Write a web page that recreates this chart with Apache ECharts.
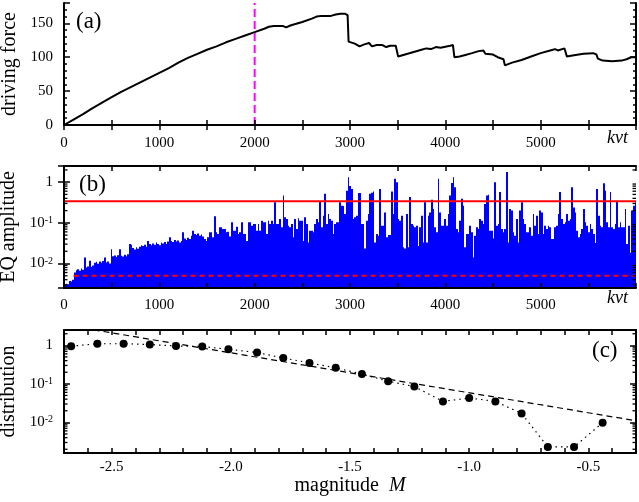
<!DOCTYPE html>
<html><head><meta charset="utf-8">
<script src="https://cdn.jsdelivr.net/npm/echarts@6/dist/echarts.min.js"></script>
<style>html,body{margin:0;padding:0;background:#fff}#c{width:639px;height:502px}</style>
</head><body><div id="c"></div>
<script>
// ---------- Panel (a): driving force vs kvt ----------
const forceKvt = [0,100,200,300,400,500,600,700,800,900,1000,1100,1200,1300,1400,1500,1600,1700,1800,1900,2000,2100,2150,2200,2250,2300,2330,2360,2400,2500,2600,2650,2700,2800,2850,2900,2950,2975,2985,3050,3100,3150,3200,3230,3280,3340,3380,3420,3480,3495,3505,3550,3650,3750,3800,3850,3900,3950,4050,4080,4095,4150,4200,4280,4350,4400,4420,4500,4550,4610,4625,4700,4800,4900,5000,5100,5150,5180,5250,5265,5275,5350,5450,5550,5585,5600,5650,5750,5850,5900,5950,6000];
const forceVal = [0,8,16,25,33,41,49,56,63,70,77,84,92,99,105,111,116,122,127,132,137,142,145,146,146,146,144,146,148,152,157,160,161,161,163,164,164,162,123,120,116,119,121,116,118,118,115,117,117,116,101,103,107,111,113,112,115,114,117,118,100,101,103,106,109,110,105,104,100,97,88,92,96,101,106,110,112,110,113,112,101,103,105,106,104,98,95,94,95,97,100,100];
const markKvt = 2000;

// ---------- Panel (b): EQ amplitude, one bar per kvt step ----------
const ampStep = 17.5;
const ampVal = [
 0.0030,0.0032,0.0031,0.0037,0.0036,0.0040,0.0060,0.0068,0.0072,0.0066,
 0.0075,0.0070,0.014,0.0080,0.0085,0.0117,0.0082,0.0090,0.0105,0.011,
 0.0098,0.0112,0.0105,0.0115,0.014,0.0106,0.0112,0.0100,0.0225,0.0150,
 0.0158,0.0145,0.0160,0.0225,0.0155,0.0148,0.0165,0.0150,0.0170,0.030,
 0.029,0.024,0.022,0.025,0.023,0.026,0.028,0.027,0.029,0.026,
 0.036,0.030,0.028,0.031,0.029,0.033,0.030,0.028,0.033,0.031,
 0.034,0.030,0.035,0.044,0.036,0.034,0.038,0.035,0.037,0.033,
 0.036,0.059,0.041,0.038,0.043,0.040,0.048,0.064,0.053,0.050,
 0.055,0.048,0.052,0.046,0.040,
 0.036,0.044,0.059,0.059,0.044,0.145,0.059,0.053,0.078,0.078,
 0.071,0.071,0.059,0.060,0.046,0.103,0.064,0.064,0.080,0.053,
 0.059,0.103,0.053,0.053,0.036,0.103,0.103,0.085,0.094,0.094,
 0.064,0.094,0.064,0.113,0.103,0.103,0.053,0.113,0.094,0.113,
 0.094,0.32,0.094,0.094,0.125,0.078,0.47,0.137,0.125,0.085,
 0.078,0.094,0.044,0.125,0.071,0.13,0.113,0.113,0.036,0.137,
 0.094,0.033,0.064,0.064,0.059,0.094,0.125,0.103,0.34,0.078,
 0.15,0.52,0.094,0.165,0.125,0.113,0.053,0.094,0.103,0.103,
 0.32,0.265,0.26,0.165,0.62,
 1.33,0.80,0.68,0.125,0.137,0.15,0.54,0.54,0.094,0.094,
 0.0235,0.113,0.165,0.52,0.55,0.59,0.033,0.053,0.048,0.68,
 0.085,0.085,0.18,0.044,0.05,0.05,0.59,0.165,1.21,1.0,
 0.125,0.113,0.15,0.025,0.0235,0.165,0.025,0.43,0.094,0.085,
 0.078,0.085,0.027,0.078,0.15,0.033,0.32,0.033,0.15,0.18,
 0.37,0.22,0.078,0.059,1.21,0.18,0.085,0.085,0.125,0.085,
 0.165,0.47,0.96,1.33,0.75,0.071,0.059,0.113,0.39,0.265,
 0.025,0.053,0.053,0.085,0.059,0.014,0.048,0.078,0.071,0.125,
 0.113,0.094,0.29,0.47,0.49,0.064,
 0.064,0.041,1.0,0.085,0.094,0.57,0.071,0.059,0.071,1.77,
 0.033,0.22,0.20,0.059,0.048,0.125,0.033,0.20,0.32,0.125,
 0.094,0.059,0.059,0.078,0.048,0.165,0.085,0.15,0.053,0.20,
 0.18,0.053,0.085,0.071,0.085,0.078,0.040,0.040,0.078,0.085,
 0.165,0.57,0.125,0.094,0.103,0.165,0.113,0.125,0.75,0.24,
 0.18,0.064,0.044,0.053,0.071,0.22,0.103,0.085,0.059,0.094,
 0.071,0.053,0.032,0.68,0.15,0.085,0.078,0.94,0.62,0.103,
 0.078,0.57,0.078,0.071,0.094,0.35,0.078,0.103,0.078,0.078,
 0.22,0.030,0.085,0.0185,0.20,0.265,0.32
];
const ampUpper = 0.34;
const ampLower = 0.005;
const ampLowerStartKvt = 100;

// ---------- Panel (c): distribution vs magnitude ----------
const magM = [-2.67,-2.56,-2.45,-2.34,-2.23,-2.12,-2.01,-1.89,-1.78,-1.67,-1.56,-1.45,-1.34,-1.23,-1.11,-1.00,-0.89,-0.78,-0.67,-0.56,-0.44];
const magDist = [0.95,1.1,1.1,1.05,0.96,0.93,0.79,0.65,0.47,0.35,0.26,0.18,0.117,0.085,0.035,0.043,0.035,0.017,0.0023,0.0023,0.0098];
const grLineM = [-2.7, -0.3];
const grLineDist = [3.4, 0.011];

// ---------- axis settings ----------
const kvtMin = 0, kvtMax = 6000, kvtTick = 500;
const forceMin = 0, forceMax = 180;
const ampMin = 0.0025, ampMax = 2.5;
const magMin = -2.7, magMax = -0.3;
const distMin = 0.0016, distMax = 2.5;
const minorMult = [2,3,4,5,6,7,8,9];
const decades = [0.001,0.01,0.1,1];

const FONT = "'Liberation Serif','DejaVu Serif',serif";
const BLACK = '#000';

function minorVals(lo, hi){
  const out = [];
  decades.forEach(d => minorMult.forEach(m => { const v = m*d; if (v > lo && v < hi) out.push(v); }));
  return out;
}
function logLabel(v){
  const e = Math.log10(v), r = Math.round(e);
  if (Math.abs(e - r) > 1e-6) return '';
  if (r === 0) return '1';
  return '10{s|' + r + '}';
}
const labelStyle = {color: BLACK, fontFamily: FONT, fontSize: 15};
const lineAx = {show: true, lineStyle: {color: BLACK, width: 2}};

function xAx(grid, min, max, interval, pos, labels, fmt, margin){
  return {type: 'value', gridIndex: grid, min, max, interval, position: pos, z: 6,
    axisLine: lineAx, splitLine: {show: false},
    axisTick: {show: true, inside: true, length: 5, lineStyle: {color: BLACK, width: 1.5}},
    axisLabel: labels ? Object.assign({show: true, margin: margin, formatter: fmt, showMaxLabel: true}, labelStyle) : {show: false}};
}
function yLin(grid, pos, interval, len, labels, line, name){
  const a = {type: 'value', gridIndex: grid, min: forceMin, max: forceMax, interval, position: pos, z: 6,
    axisLine: line ? lineAx : {show: false}, splitLine: {show: false},
    axisTick: {show: true, inside: true, length: len, lineStyle: {color: BLACK, width: 1.5}},
    axisLabel: labels ? Object.assign({show: true, margin: 11, formatter: v => (v % 50 === 0 && v <= 150) ? String(v) : ''}, labelStyle) : {show: false}};
  if (name) Object.assign(a, {name, nameLocation: 'middle', nameGap: 43, nameTextStyle: {color: BLACK, fontFamily: FONT, fontSize: 20}});
  return a;
}
function yLog(grid, pos, min, max, labels, name){
  const a = {type: 'log', logBase: 10, gridIndex: grid, min, max, position: pos, z: 6,
    axisLine: lineAx, splitLine: {show: false}, minorTick: {show: false},
    axisTick: {show: true, inside: true, length: 6, lineStyle: {color: BLACK, width: 1.5}},
    axisLabel: labels ? Object.assign({show: true, margin: 11, formatter: logLabel, showMinLabel: false, showMaxLabel: false,
      rich: {s: {fontFamily: FONT, fontSize: 10, color: BLACK, verticalAlign: 'top', lineHeight: 10}}}, labelStyle) : {show: false}};
  if (name) Object.assign(a, {name, nameLocation: 'middle', nameGap: 44, nameTextStyle: {color: BLACK, fontFamily: FONT, fontSize: 20}});
  return a;
}
function minorTickSeries(xi, yi, xmin, vals){
  return {type: 'custom', xAxisIndex: xi, yAxisIndex: yi, z: 5, silent: true,
    data: vals.map(v => [xmin, v]),
    renderItem: function(params, api){
      const cs = params.coordSys;
      const y = api.coord([api.value(0), api.value(1)])[1];
      return {type: 'group', children: [
        {type: 'line', shape: {x1: cs.x, y1: y, x2: cs.x + 3.5, y2: y}, style: {stroke: BLACK, lineWidth: 1.3}},
        {type: 'line', shape: {x1: cs.x + cs.width - 3.5, y1: y, x2: cs.x + cs.width, y2: y}, style: {stroke: BLACK, lineWidth: 1.3}}
      ]};
    }};
}

const kvtFmt = v => (v % 1000 === 0 && v < kvtMax) ? String(v) : '';
const magFmt = v => { const t = Math.round(v * 10) / 10; return (Math.abs(t * 2 - Math.round(t * 2)) < 1e-6 && t > -2.65 && t < -0.35) ? t.toFixed(1) : ''; };

const chart = echarts.init(document.getElementById('c'), null, {renderer: 'canvas'});
chart.setOption({
  animation: false,
  backgroundColor: '#fff',
  grid: [
    {left: 64, right: 3, top: 3, height: 122, outerBoundsMode: 'none'},
    {left: 64, right: 3, top: 166, height: 122, outerBoundsMode: 'none'},
    {left: 64, right: 3, top: 330, height: 123, outerBoundsMode: 'none'}
  ],
  xAxis: [
    xAx(0, kvtMin, kvtMax, kvtTick, 'bottom', true, kvtFmt, 11),
    xAx(0, kvtMin, kvtMax, kvtTick, 'top', false),
    xAx(1, kvtMin, kvtMax, kvtTick, 'bottom', true, kvtFmt, 10),
    xAx(1, kvtMin, kvtMax, kvtTick, 'top', false),
    Object.assign(xAx(2, magMin, magMax, 0.1, 'bottom', true, magFmt, 7), {
      name: 'magnitude  {i|M}', nameLocation: 'middle', nameGap: 22,
      nameTextStyle: {color: BLACK, fontFamily: FONT, fontSize: 20, rich: {i: {fontFamily: FONT, fontSize: 20, fontStyle: 'italic', color: BLACK}}}}),
    xAx(2, magMin, magMax, 0.1, 'top', false)
  ],
  yAxis: [
    yLin(0, 'left', 50, 6, true, true, 'driving force'),
    yLin(0, 'left', 10, 3, false, false),
    yLin(0, 'right', 50, 6, false, true),
    yLin(0, 'right', 10, 3, false, false),
    yLog(1, 'left', ampMin, ampMax, true, 'EQ amplitude'),
    yLog(1, 'right', ampMin, ampMax, false),
    yLog(2, 'left', distMin, distMax, true, 'distribution'),
    yLog(2, 'right', distMin, distMax, false)
  ],
  series: [
    {type: 'line', xAxisIndex: 0, yAxisIndex: 0, symbol: 'none', z: 3,
     data: forceKvt.map((k, i) => [k, forceVal[i]]),
     lineStyle: {color: BLACK, width: 2}},
    {type: 'line', xAxisIndex: 0, yAxisIndex: 0, symbol: 'none', z: 3,
     data: [[markKvt, forceMin], [markKvt, forceMax]],
     lineStyle: {color: '#ff00ff', width: 2, type: [8, 4]}},
    {type: 'custom', xAxisIndex: 2, yAxisIndex: 4, z: 2, clip: true,
     data: ampVal.map((v, i) => [(i + 0.5) * ampStep, v]),
     renderItem: function(params, api){
       const x = api.value(0), v = api.value(1);
       const p1 = api.coord([x - ampStep / 2, v]);
       const p2 = api.coord([x + ampStep / 2, ampMin]);
       const x0 = Math.round(p1[0]);
       let x1 = Math.round(p2[0]);
       if (x1 <= x0) x1 = x0 + 1;
       return {type: 'rect', shape: {x: x0, y: p1[1], width: x1 - x0, height: p2[1] - p1[1]},
         style: {fill: '#0000ff'}};
     }},
    {type: 'line', xAxisIndex: 2, yAxisIndex: 4, symbol: 'none', z: 4,
     data: [[kvtMin, ampUpper], [kvtMax, ampUpper]], lineStyle: {color: '#ff0000', width: 2}},
    {type: 'line', xAxisIndex: 2, yAxisIndex: 4, symbol: 'none', z: 4,
     data: [[ampLowerStartKvt, ampLower], [kvtMax, ampLower]], lineStyle: {color: '#ff0000', width: 2, type: [5, 4]}},
    minorTickSeries(2, 4, kvtMin, minorVals(ampMin, ampMax)),
    {type: 'line', xAxisIndex: 4, yAxisIndex: 6, symbol: 'none', z: 3, clip: true,
     data: grLineM.map((m, i) => [m, grLineDist[i]]), lineStyle: {color: BLACK, width: 1.2, type: [6, 4]}},
    {type: 'line', xAxisIndex: 4, yAxisIndex: 6, symbol: 'circle', symbolSize: 8, z: 4,
     data: magM.map((m, i) => [m, magDist[i]]),
     itemStyle: {color: BLACK}, lineStyle: {color: BLACK, width: 1.2, type: [1.5, 4]}},
    minorTickSeries(4, 6, magMin, minorVals(distMin, distMax))
  ],
  graphic: [
    {type: 'text', left: 76, top: 10, style: {text: '(a)', font: "23px 'Liberation Serif'", fill: BLACK}},
    {type: 'text', left: 79, top: 173, style: {text: '(b)', font: "23px 'Liberation Serif'", fill: BLACK}},
    {type: 'text', left: 592, top: 339, style: {text: '(c)', font: "23px 'Liberation Serif'", fill: BLACK}},
    {type: 'text', left: 607, top: 129, style: {text: 'kvt', font: "italic 18px 'Liberation Serif'", fill: BLACK}},
    {type: 'text', left: 607, top: 289, style: {text: 'kvt', font: "italic 18px 'Liberation Serif'", fill: BLACK}}
  ]
});
</script></body></html>
